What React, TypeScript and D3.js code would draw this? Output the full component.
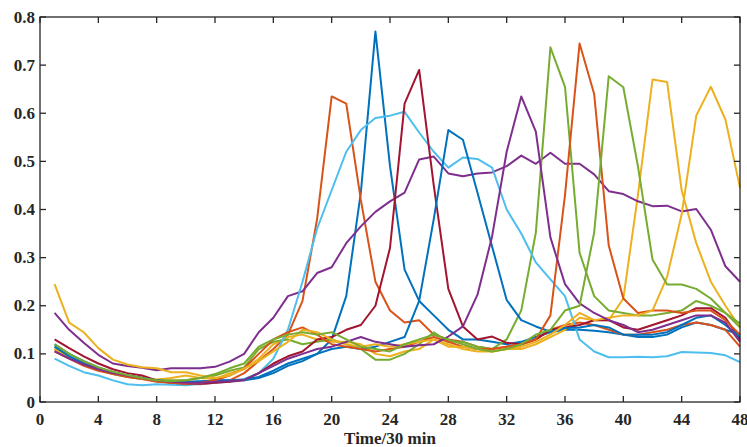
import React from "react"
import * as d3 from "d3"

// half-hour slots 1..48
const slots = d3.range(1, 49)
const xTicks = d3.range(0, 49, 4)
const yTicks = [0, 0.1, 0.2, 0.3, 0.4, 0.5, 0.6, 0.7, 0.8]
const xLabel = "Time/30 min"

const blue = "#0072BD"
const orange = "#D95319"
const yellow = "#EDB120"
const purple = "#7E2F8E"
const green = "#77AC30"
const lightBlue = "#4DBEEE"
const darkRed = "#A2142F"

const blue23 = [0.12, 0.1, 0.085, 0.072, 0.062, 0.055, 0.05, 0.045, 0.042, 0.042, 0.043, 0.044, 0.045, 0.047, 0.052, 0.065, 0.08, 0.09, 0.1, 0.13, 0.22, 0.435, 0.77, 0.49, 0.275, 0.21, 0.18, 0.15, 0.13, 0.13, 0.125, 0.12, 0.125, 0.135, 0.145, 0.15, 0.15, 0.148, 0.145, 0.14, 0.135, 0.135, 0.14, 0.155, 0.165, 0.16, 0.15, 0.14]
const orange20 = [0.11, 0.095, 0.08, 0.068, 0.06, 0.055, 0.05, 0.043, 0.04, 0.038, 0.037, 0.04, 0.045, 0.06, 0.085, 0.11, 0.14, 0.21, 0.38, 0.635, 0.62, 0.42, 0.25, 0.19, 0.165, 0.17, 0.14, 0.13, 0.125, 0.115, 0.11, 0.115, 0.12, 0.13, 0.15, 0.16, 0.165, 0.16, 0.15, 0.14, 0.14, 0.145, 0.15, 0.16, 0.165, 0.16, 0.15, 0.115]
const yellow42 = [0.11, 0.092, 0.078, 0.068, 0.06, 0.055, 0.05, 0.047, 0.05, 0.055, 0.05, 0.048, 0.06, 0.068, 0.09, 0.12, 0.135, 0.14, 0.13, 0.125, 0.125, 0.12, 0.1, 0.095, 0.105, 0.11, 0.13, 0.12, 0.11, 0.105, 0.105, 0.11, 0.11, 0.12, 0.135, 0.15, 0.175, 0.17, 0.17, 0.215, 0.43, 0.67, 0.665, 0.44, 0.33, 0.25, 0.2, 0.155]
const purpleBroad = [0.185, 0.15, 0.123, 0.098, 0.08, 0.075, 0.071, 0.066, 0.07, 0.07, 0.07, 0.073, 0.084, 0.1, 0.145, 0.175, 0.22, 0.23, 0.268, 0.28, 0.33, 0.365, 0.395, 0.417, 0.435, 0.504, 0.51, 0.475, 0.469, 0.475, 0.477, 0.49, 0.512, 0.495, 0.518, 0.495, 0.495, 0.473, 0.438, 0.432, 0.417, 0.407, 0.408, 0.396, 0.401, 0.358, 0.282, 0.25]
const green35 = [0.115, 0.095, 0.08, 0.067, 0.058, 0.052, 0.048, 0.045, 0.045, 0.045, 0.05, 0.055, 0.065, 0.072, 0.11, 0.125, 0.13, 0.12, 0.125, 0.13, 0.12, 0.11, 0.088, 0.088, 0.1, 0.12, 0.145, 0.125, 0.125, 0.115, 0.11, 0.13, 0.19, 0.352, 0.737, 0.655, 0.31, 0.22, 0.19, 0.185, 0.18, 0.18, 0.185, 0.19, 0.21, 0.2, 0.185, 0.155]
const lightBlueBroad = [0.09, 0.075, 0.062, 0.055, 0.045, 0.037, 0.035, 0.037, 0.036, 0.035, 0.038, 0.04, 0.042, 0.048, 0.06, 0.09, 0.15, 0.25, 0.36, 0.44, 0.52, 0.565, 0.59, 0.595, 0.603, 0.56, 0.52, 0.487, 0.508, 0.505, 0.487, 0.4, 0.35, 0.29, 0.255, 0.22, 0.13, 0.105, 0.093, 0.093, 0.094, 0.093, 0.095, 0.104, 0.103, 0.102, 0.097, 0.083]
const darkRed26 = [0.13, 0.112, 0.095, 0.08, 0.068, 0.06, 0.055, 0.045, 0.04, 0.038, 0.038, 0.04, 0.042, 0.045, 0.06, 0.08, 0.095, 0.105, 0.13, 0.135, 0.15, 0.16, 0.2, 0.32, 0.62, 0.69, 0.45, 0.235, 0.157, 0.13, 0.136, 0.123, 0.12, 0.13, 0.15, 0.155, 0.16, 0.17, 0.17, 0.155, 0.15, 0.16, 0.17, 0.18, 0.195, 0.195, 0.175, 0.13]
const blue28 = [0.115, 0.095, 0.08, 0.068, 0.06, 0.055, 0.05, 0.045, 0.042, 0.04, 0.042, 0.045, 0.045, 0.045, 0.05, 0.06, 0.075, 0.085, 0.1, 0.11, 0.115, 0.11, 0.115, 0.125, 0.135, 0.21, 0.38, 0.565, 0.545, 0.435, 0.323, 0.212, 0.17, 0.157, 0.146, 0.154, 0.155, 0.16, 0.155, 0.14, 0.14, 0.14, 0.145, 0.16, 0.175, 0.18, 0.16, 0.135]
const orange37 = [0.105, 0.09, 0.075, 0.065, 0.058, 0.052, 0.048, 0.042, 0.04, 0.038, 0.04, 0.045, 0.055, 0.07, 0.1, 0.13, 0.145, 0.155, 0.14, 0.12, 0.115, 0.11, 0.105, 0.11, 0.115, 0.125, 0.135, 0.125, 0.115, 0.11, 0.11, 0.115, 0.12, 0.13, 0.18, 0.43, 0.745, 0.64, 0.325, 0.215, 0.185, 0.19, 0.19, 0.185, 0.19, 0.19, 0.17, 0.14]
const yellow46 = [0.245, 0.165, 0.145, 0.112, 0.088, 0.078, 0.072, 0.07, 0.062, 0.062, 0.055, 0.05, 0.055, 0.07, 0.085, 0.105, 0.125, 0.15, 0.145, 0.13, 0.12, 0.115, 0.12, 0.115, 0.12, 0.125, 0.13, 0.115, 0.115, 0.11, 0.105, 0.11, 0.115, 0.125, 0.14, 0.16, 0.185, 0.17, 0.175, 0.18, 0.18, 0.19, 0.26, 0.39, 0.595, 0.655, 0.587, 0.445]
const purple33 = [0.105, 0.09, 0.078, 0.068, 0.06, 0.055, 0.05, 0.045, 0.042, 0.04, 0.04, 0.042, 0.043, 0.046, 0.06, 0.075, 0.09, 0.1, 0.11, 0.115, 0.125, 0.135, 0.125, 0.12, 0.115, 0.118, 0.12, 0.136, 0.157, 0.223, 0.344, 0.52, 0.635, 0.562, 0.342, 0.245, 0.205, 0.185, 0.17, 0.16, 0.145, 0.15, 0.16, 0.17, 0.18, 0.18, 0.165, 0.125]
const green39 = [0.12, 0.1, 0.085, 0.072, 0.063, 0.056, 0.05, 0.045, 0.043, 0.045, 0.05, 0.058, 0.07, 0.08, 0.115, 0.13, 0.14, 0.145, 0.14, 0.145, 0.13, 0.115, 0.11, 0.105, 0.12, 0.13, 0.14, 0.13, 0.12, 0.11, 0.105, 0.11, 0.12, 0.14, 0.15, 0.19, 0.2, 0.352, 0.677, 0.654, 0.49, 0.296, 0.244, 0.244, 0.235, 0.215, 0.185, 0.163]

const series = [
    { values: blue23, color: blue },
    { values: orange20, color: orange },
    { values: yellow42, color: yellow },
    { values: purpleBroad, color: purple },
    { values: green35, color: green },
    { values: lightBlueBroad, color: lightBlue },
    { values: darkRed26, color: darkRed },
    { values: blue28, color: blue },
    { values: orange37, color: orange },
    { values: yellow46, color: yellow },
    { values: purple33, color: purple },
    { values: green39, color: green },
]

const width = 747
const height = 447
const left = 40
const right = 740
const top = 17
const bottom = 402
const axisColor = "#262626"
const font = "'Liberation Serif', 'Times New Roman', serif"

export default function App() {
    const x = d3.scaleLinear().domain([0, 48]).range([left, right])
    const y = d3.scaleLinear().domain([0, 0.8]).range([bottom, top])
    const line = d3
        .line<number>()
        .x((d, i) => x(slots[i]))
        .y(d => y(d))
    const fmt = (d: number) => (d === 0 ? "0" : d3.format(".1f")(d))

    return (
        <svg
            width={width}
            height={height}
            style={{ position: "absolute", left: 0, top: 0, background: "#fff" }}
        >
            <g fill="none" strokeWidth={2} strokeLinejoin="round">
                {series.map((s, i) => (
                    <path key={i} d={line(s.values) || ""} stroke={s.color} />
                ))}
            </g>
            <g stroke={axisColor} strokeWidth={1.3}>
                <rect x={left} y={top} width={right - left} height={bottom - top} fill="none" />
                {xTicks.map(t => (
                    <g key={"x" + t}>
                        <line x1={x(t)} x2={x(t)} y1={bottom} y2={bottom - 6} />
                        <line x1={x(t)} x2={x(t)} y1={top} y2={top + 6} />
                    </g>
                ))}
                {yTicks.map(t => (
                    <g key={"y" + t}>
                        <line x1={left} x2={left + 6} y1={y(t)} y2={y(t)} />
                        <line x1={right} x2={right - 6} y1={y(t)} y2={y(t)} />
                    </g>
                ))}
            </g>
            <g fontFamily={font} fontWeight="bold" fontSize={17} fill={axisColor}>
                {xTicks.map(t => (
                    <text key={"xl" + t} x={x(t)} y={425} textAnchor="middle">
                        {t}
                    </text>
                ))}
                {yTicks.map(t => (
                    <text key={"yl" + t} x={35} y={y(t) + 5.5} textAnchor="end">
                        {fmt(t)}
                    </text>
                ))}
                <text x={(left + right) / 2} y={444} textAnchor="middle" fontSize={17}>
                    {xLabel}
                </text>
            </g>
        </svg>
    )
}
